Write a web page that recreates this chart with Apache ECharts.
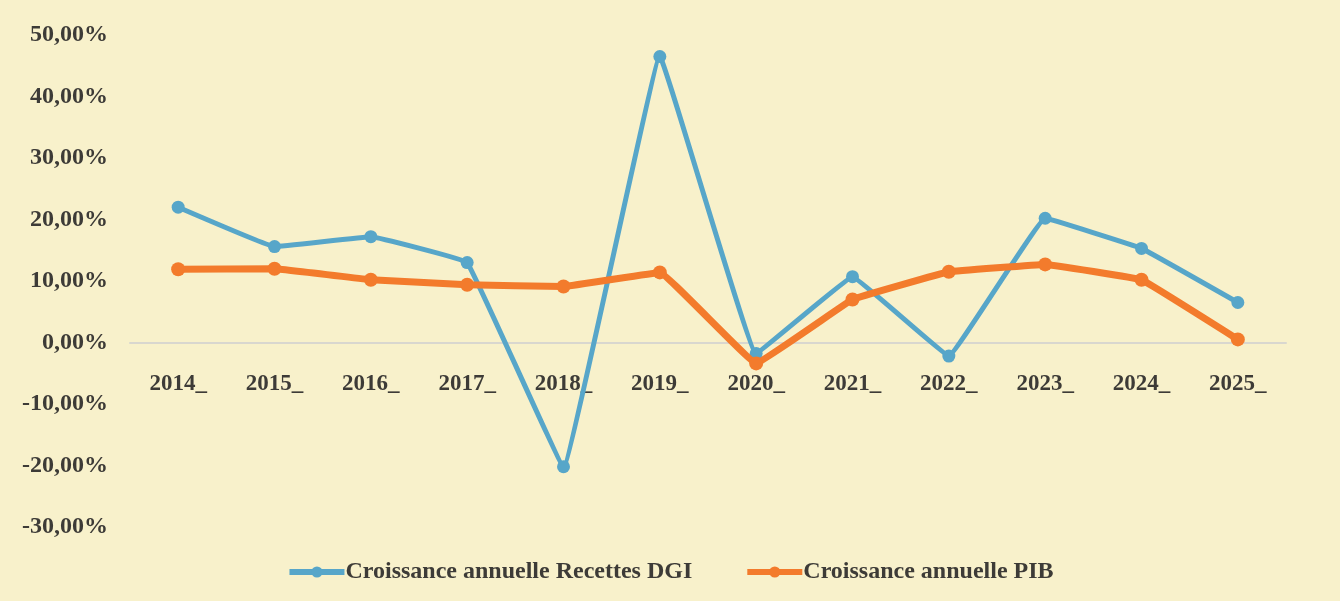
<!DOCTYPE html>
<html>
<head>
<meta charset="utf-8">
<script src="https://cdn.jsdelivr.net/npm/echarts@6/dist/echarts.min.js"></script>
<style>
html,body{margin:0;padding:0;background:#f8f1cb;}
#chart{width:1340px;height:601px;}
</style>
</head>
<body>
<div id="chart"></div>
<script>
const categories = ['2014_','2015_','2016_','2017_','2018_','2019_','2020_','2021_','2022_','2023_','2024_','2025_'];
const recettesDGI = [22.0, 15.6, 17.2, 13.0, -20.2, 46.5, -1.8, 10.7, -2.2, 20.2, 15.3, 6.5];
const pib = [11.9, 12.0, 10.2, 9.4, 9.1, 11.4, -3.4, 7.0, 11.5, 12.7, 10.2, 0.5];
const seriesNames = ['Croissance annuelle Recettes DGI', 'Croissance annuelle PIB'];
const yTicks = {min: -30, max: 50, interval: 10};

const textColor = '#3d3b37';
const font = '"Liberation Serif", "Times New Roman", serif';

const gridTop = 35, gridBottom = 74, chartH = 601;
const plotH = chartH - gridTop - gridBottom;
const zeroOffset = -plotH * (0 - yTicks.min) / (yTicks.max - yTicks.min);

const chart = echarts.init(document.getElementById('chart'));
chart.setOption({
  backgroundColor: '#f8f1cb',
  animation: false,
  textStyle: {fontFamily: font},
  grid: {left: 130, right: 54, top: gridTop, bottom: gridBottom, containLabel: false},
  legend: {
    data: seriesNames,
    top: 555,
    left: 'center',
    itemWidth: 55,
    itemHeight: 14,
    itemGap: 52,
    lineStyle: {width: 6},
    textStyle: {fontFamily: font, fontWeight: 'bold', fontSize: 24, color: textColor, padding: [0,0,0,-4]}
  },
  xAxis: {
    type: 'category',
    data: categories,
    boundaryGap: true,
    offset: zeroOffset,
    axisLine: {show: true, onZero: false, lineStyle: {color: '#d9d7cf', width: 2}},
    axisTick: {show: false},
    axisLabel: {fontFamily: font, fontWeight: 'bold', fontSize: 23, color: textColor, margin: 30}
  },
  yAxis: {
    type: 'value',
    min: yTicks.min,
    max: yTicks.max,
    interval: yTicks.interval,
    axisLine: {show: false},
    axisTick: {show: false},
    splitLine: {show: false},
    axisLabel: {
      fontFamily: font, fontWeight: 'bold', fontSize: 24, color: textColor, margin: 22,
      formatter: v => v.toFixed(2).replace('.', ',') + '%'
    }
  },
  series: [
    {
      name: seriesNames[0],
      type: 'line',
      data: recettesDGI,
      smooth: 0.05,
      symbol: 'circle',
      symbolSize: 13,
      z: 3,
      lineStyle: {color: '#57a6c9', width: 5},
      itemStyle: {color: '#57a6c9'}
    },
    {
      name: seriesNames[1],
      type: 'line',
      data: pib,
      smooth: 0.05,
      symbol: 'circle',
      symbolSize: 14,
      z: 4,
      lineStyle: {color: '#f37b2c', width: 7},
      itemStyle: {color: '#f37b2c'}
    }
  ]
});
</script>
</body>
</html>
